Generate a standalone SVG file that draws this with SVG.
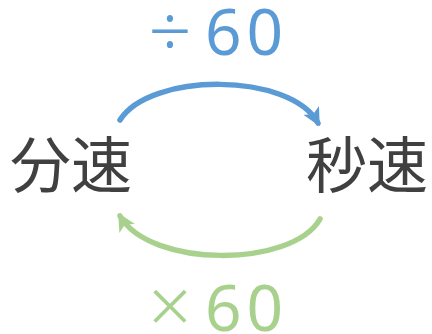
<svg xmlns="http://www.w3.org/2000/svg" width="432" height="334" viewBox="0 0 432 334">
<style>
.cjk{font-family:"Noto Sans CJK JP","Noto Sans",sans-serif;font-size:61px;fill:#404040}
.op{font-family:"Noto Sans","Noto Sans CJK JP",sans-serif;font-size:64px;letter-spacing:5px}
.sym{font-family:"Noto Sans","Noto Sans CJK JP",sans-serif;font-size:76px;font-weight:300;text-anchor:middle}
.blue{fill:#5b9bd5}
.green{fill:#a9d18e}
.arc{fill:none;stroke-width:5.5;stroke-linecap:round}
</style>
<defs>
<marker id="ab" viewBox="0 0 10 10" refX="8" refY="5" markerWidth="18" markerHeight="18" markerUnits="userSpaceOnUse" orient="auto">
<path d="M0,0 L10,5 L0,10 L2.5,5 Z" fill="#5b9bd5"/>
</marker>
<marker id="ag" viewBox="0 0 10 10" refX="8" refY="5" markerWidth="18" markerHeight="18" markerUnits="userSpaceOnUse" orient="auto">
<path d="M0,0 L10,5 L0,10 L2.5,5 Z" fill="#a9d18e"/>
</marker>
</defs>
<g id="node-fensoku"><text class="cjk" x="10" y="188">分速</text></g>
<g id="node-byosoku"><text class="cjk" x="306" y="188">秒速</text></g>
<g id="connectors">
<path class="arc" stroke="#5b9bd5" d="M120,120 C150,72 290,72 318,123" marker-end="url(#ab)"/>
<path class="arc" stroke="#a9d18e" d="M320,219 C292,268 150,268 120,216" marker-end="url(#ag)"/>
</g>
<g id="label-div"><text class="sym blue" x="170" y="58">÷</text><text class="op blue" x="205" y="55">60</text></g>
<g id="label-mul"><text class="sym green" x="170" y="333">×</text><text class="op green" x="205" y="331">60</text></g>
</svg>
